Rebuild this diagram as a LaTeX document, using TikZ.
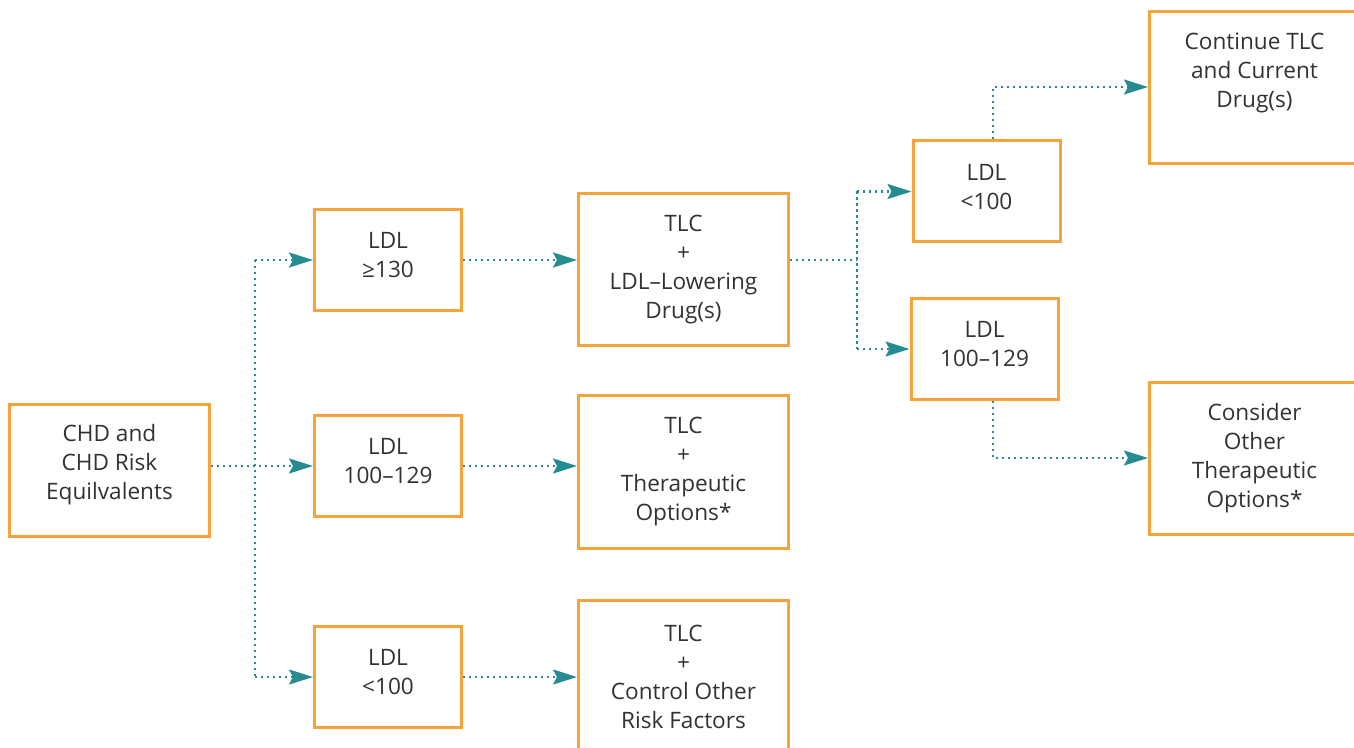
\documentclass[tikz,border=0pt]{standalone}
\usepackage{fontspec}
\setmainfont{Open Sans}
\usetikzlibrary{arrows.meta}

\begin{document}
\begin{tikzpicture}[x=0.5pt,y=-0.5pt]

	\definecolor{boxorange}{RGB}{247,163,60}
	\definecolor{linkteal}{RGB}{38,140,145}
	\definecolor{textgray}{RGB}{50,50,50}

	\useasboundingbox (0,0) rectangle (1354,748);
	\clip (0,0) rectangle (1354,748);

	\tikzset{box/.style = {shape=rectangle,draw=boxorange,line width=1.5pt,align=center,text=textgray,font=\fontsize{11.3}{14.5}\selectfont,inner sep=0pt}}
	\tikzset{link/.style = {draw=linkteal,line width=1.1pt,dash pattern=on 1.1pt off 1.9pt}}
	\tikzset{arrow/.style = {link,-{Stealth[length=12pt,width=7.5pt,inset=2pt]}}}

	\node[box,minimum width=100pt,minimum height=66pt,text depth=8.7pt] (chd) at (109.5,470.5) {CHD and\\CHD Risk\\Equilvalents};

	\tikzset{small/.style = {box,minimum width=73.5pt,minimum height=50.5pt,text depth=5pt}}
	\node[small] (ldlhigh) at (388,260) {LDL\\≥130};
	\node[small] (ldlmid) at (388,466) {LDL\\100–129};
	\node[small] (ldllow) at (388,677) {LDL\\<100};

	\tikzset{large/.style = {box,minimum width=105pt,minimum height=76pt}}
	\node[large] (tlcdrug) at (683.5,269.5) {TLC\\+\\LDL–Lowering\\Drug(s)};
	\node[large] (tlcther) at (683.5,472) {TLC\\+\\Therapeutic\\Options*};
	\node[large] (tlcrisk) at (683.5,676.5) {TLC\\+\\Control Other\\Risk Factors};

	\node[small] (goodldl) at (986.5,191.5) {LDL\\<100};
	\node[small] (highldl) at (984.5,349) {LDL\\100–129};

	\node[large,text depth=3pt] (contin) at (1254.5,88) {Continue TLC\\and Current\\Drug(s)\\\mbox{}};
	\node[large] (consider) at (1254.5,458.5) {Consider\\Other\\Therapeutic\\Options*};

	% first split
	\coordinate (fork) at (255,466);
	\draw[link] (ldlhigh.west -| fork) -- (ldllow.west -| fork);
	\draw[arrow] (chd.east |- ldlmid.west) -- (ldlmid.west);
	\draw[arrow] (ldlhigh.west -| fork) -- (ldlhigh.west);
	\draw[arrow] (ldllow.west -| fork) -- (ldllow.west);

	\draw[arrow] (ldlhigh.east) -- (ldlhigh.east -| tlcdrug.west);
	\draw[arrow] (ldlmid.east) -- (ldlmid.east -| tlcther.west);
	\draw[arrow] (ldllow.east) -- (ldllow.east -| tlcrisk.west);

	% follow-up
	\coordinate (fork2) at (857,260);
	\draw[link] (tlcdrug.east |- fork2) -- (fork2);
	\draw[link] (goodldl.west -| fork2) -- (highldl.west -| fork2);
	\draw[arrow] (goodldl.west -| fork2) -- (goodldl.west);
	\draw[arrow] (highldl.west -| fork2) -- (highldl.west);

	\coordinate (up) at (993,87);
	\coordinate (down) at (993,458);
	\draw[arrow] (goodldl.north -| up) -- (up) -- (contin.west |- up);
	\draw[arrow] (highldl.south -| down) -- (down) -- (consider.west |- down);

\end{tikzpicture}
\end{document}
